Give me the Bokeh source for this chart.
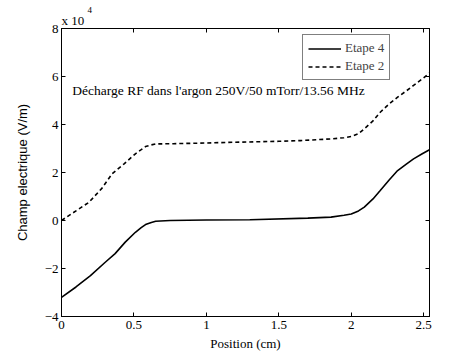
from bokeh.plotting import figure
from bokeh.models import Range1d, LinearAxis, Label, Legend, LegendItem, FixedTicker, Title
from bokeh.embed import file_html
from bokeh.resources import INLINE

# Data (field in units of 1e4 V/m)
x_etape4 = [0, 0.1, 0.2, 0.3, 0.37, 0.44, 0.51, 0.55, 0.58, 0.62, 0.65, 0.75, 1.0, 1.3, 1.7,
            1.86, 1.95, 2.0, 2.05, 2.09, 2.15, 2.2, 2.26, 2.32, 2.38, 2.43, 2.49, 2.54]
y_etape4 = [-3.2, -2.77, -2.3, -1.75, -1.38, -0.9, -0.49, -0.3, -0.17, -0.08, -0.03, 0.0, 0.02, 0.03, 0.1,
            0.14, 0.22, 0.27, 0.4, 0.56, 0.9, 1.25, 1.68, 2.08, 2.35, 2.57, 2.78, 2.95]
x_etape2 = [0, 0.1, 0.19, 0.28, 0.35, 0.43, 0.51, 0.55, 0.58, 0.62, 0.65, 0.77, 1.0, 1.19, 1.5,
            1.65, 1.86, 1.95, 2.0, 2.05, 2.09, 2.15, 2.2, 2.26, 2.32, 2.38, 2.43, 2.49, 2.54]
y_etape2 = [0, 0.4, 0.76, 1.35, 1.95, 2.35, 2.78, 2.95, 3.08, 3.15, 3.19, 3.2, 3.23, 3.26, 3.3,
            3.33, 3.4, 3.45, 3.5, 3.62, 3.82, 4.15, 4.51, 4.85, 5.14, 5.4, 5.63, 5.9, 6.14]
x_ticks = [0, 0.5, 1, 1.5, 2, 2.5]
y_ticks = [-4, -2, 0, 2, 4, 6, 8]
series_names = ["Etape 4", "Etape 2"]
annotation = "Décharge RF dans l'argon 250V/50 mTorr/13.56 MHz"
scale_base = "x 10"
scale_exp = "4"

SERIF = "Liberation Serif"
SANS = "Liberation Sans"

p = figure(width=474, height=355, frame_width=368, frame_height=288,
           min_border_left=61, min_border_right=45, min_border_top=28, min_border_bottom=39,
           x_range=Range1d(0, 2.54), y_range=Range1d(-4, 8),
           output_backend="svg", toolbar_location=None, tools="")
p.background_fill_color = "white"
p.border_fill_color = "white"
p.outline_line_color = "black"
p.outline_line_width = 1
p.grid.visible = False

for ax in [p.xaxis[0], p.yaxis[0]]:
    ax.major_tick_in = 4
    ax.major_tick_out = 0
    ax.minor_tick_line_color = None
    ax.axis_line_color = "black"
    ax.major_label_text_font = SERIF
    ax.major_label_text_font_size = "13px"
    ax.major_label_text_color = "black"
    ax.axis_label_text_font_style = "normal"
    ax.axis_label_text_font_size = "13px"
    ax.axis_label_text_color = "black"

p.xaxis[0].ticker = FixedTicker(ticks=x_ticks)
p.yaxis[0].ticker = FixedTicker(ticks=y_ticks)
p.xaxis[0].major_label_overrides = {0: "0", 0.5: "0.5", 1: "1", 1.5: "1.5", 2: "2", 2.5: "2.5"}
p.xaxis[0].axis_label = "Position (cm)"
p.xaxis[0].axis_label_text_font = SERIF
p.xaxis[0].axis_label_standoff = 4
p.xaxis[0].major_label_standoff = 4
p.yaxis[0].axis_label = "Champ electrique (V/m)"
p.yaxis[0].axis_label_text_font = SANS
p.yaxis[0].axis_label_standoff = 12
p.yaxis[0].major_label_standoff = 3

top = LinearAxis(ticker=FixedTicker(ticks=x_ticks), major_tick_in=4, major_tick_out=0,
                 minor_tick_line_color=None, major_label_standoff=0,
                 major_label_overrides={t: "" for t in x_ticks})
right = LinearAxis(ticker=FixedTicker(ticks=y_ticks), major_tick_in=4, major_tick_out=0,
                   minor_tick_line_color=None, major_label_standoff=0,
                   major_label_overrides={t: "" for t in y_ticks})
p.add_layout(top, "above")
p.add_layout(right, "right")

# exponent title sits outermost, base title sits closest to the frame
p.title.text = scale_exp
p.title.align = "left"
p.title.offset = 26
p.title.standoff = -4
p.title.text_font = SERIF
p.title.text_font_size = "9px"
p.title.text_font_style = "normal"
p.title.text_color = "black"
p.add_layout(Title(text=scale_base, align="left", offset=0, standoff=1,
                   text_font=SERIF, text_font_size="13px", text_font_style="normal",
                   text_color="black"), "above")

r4 = p.line(x_etape4, y_etape4, line_color="black", line_width=1.6)
r2 = p.line(x_etape2, y_etape2, line_color="black", line_width=1.6, line_dash="4 3")

legend = Legend(items=[LegendItem(label=series_names[0], renderers=[r4]),
                       LegendItem(label=series_names[1], renderers=[r2])],
                location=(241, 236), border_line_color="black", border_line_width=1,
                background_fill_color="white", background_fill_alpha=1,
                label_text_font=SERIF, label_text_font_size="13px",
                glyph_width=33, glyph_height=15, label_height=15, label_standoff=4,
                padding=5, spacing=2, margin=0)
p.add_layout(legend, "center")

p.add_layout(Label(x=0.075, y=5.42, text=annotation, text_font=SERIF, text_font_size="13.5px",
                   text_color="black", text_baseline="middle"))

open("out.html", "w").write(file_html(p, INLINE))
